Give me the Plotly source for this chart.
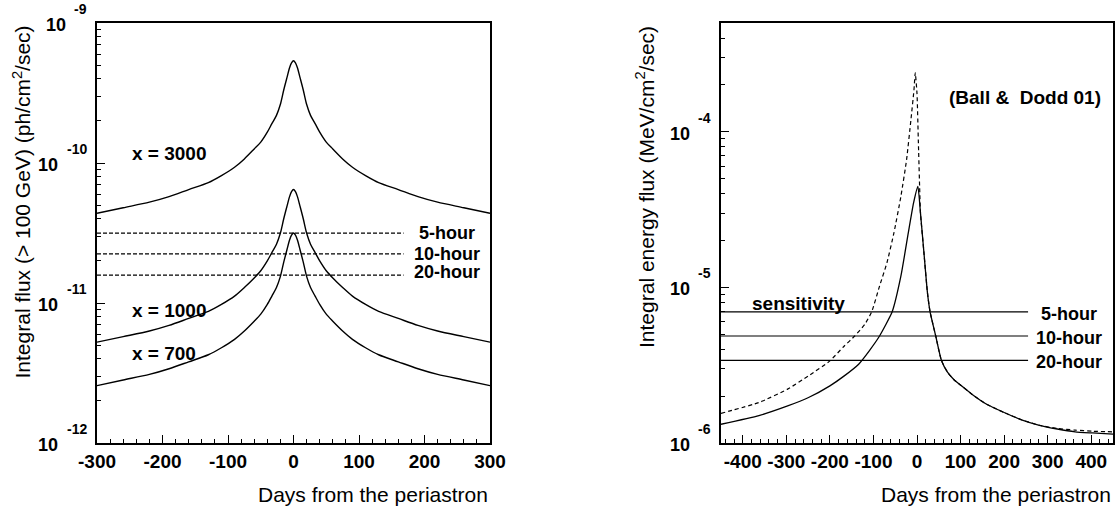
import math
import plotly.graph_objects as go

# ---------------- data: left panel ----------------
days_left = [-300, -260, -220, -190, -160, -130, -110, -90, -75, -60, -50, -40, -33, -26, -20, -15, -10, -6, -3,
             0, 3, 6, 10, 15, 20, 26, 33, 40, 50, 60, 75, 90, 110, 130, 160, 190, 220, 260, 300]
flux_x3000 = [4.37e-11, 4.79e-11, 5.25e-11, 5.75e-11, 6.46e-11, 7.24e-11, 8.13e-11, 9.33e-11, 1.07e-10, 1.26e-10,
              1.41e-10, 1.66e-10, 1.91e-10, 2.19e-10, 2.63e-10, 3.31e-10, 4.07e-10, 4.79e-10, 5.19e-10,
              5.37e-10,
              5.19e-10, 4.79e-10, 4.07e-10, 3.31e-10, 2.63e-10, 2.19e-10, 1.91e-10, 1.66e-10, 1.41e-10, 1.26e-10,
              1.07e-10, 9.33e-11, 8.13e-11, 7.24e-11, 6.46e-11, 5.75e-11, 5.25e-11, 4.79e-11, 4.37e-11]
flux_x1000 = [5.25e-12, 5.75e-12, 6.31e-12, 6.92e-12, 7.76e-12, 8.71e-12, 9.77e-12, 1.12e-11, 1.29e-11, 1.51e-11,
              1.70e-11, 2.00e-11, 2.29e-11, 2.63e-11, 3.16e-11, 3.98e-11, 4.90e-11, 5.75e-11, 6.24e-11,
              6.46e-11,
              6.24e-11, 5.75e-11, 4.90e-11, 3.98e-11, 3.16e-11, 2.63e-11, 2.29e-11, 2.00e-11, 1.70e-11, 1.51e-11,
              1.29e-11, 1.12e-11, 9.77e-12, 8.71e-12, 7.76e-12, 6.92e-12, 6.31e-12, 5.75e-12, 5.25e-12]
flux_x700 = [2.57e-12, 2.82e-12, 3.09e-12, 3.39e-12, 3.80e-12, 4.27e-12, 4.79e-12, 5.50e-12, 6.31e-12, 7.41e-12,
             8.32e-12, 9.77e-12, 1.12e-11, 1.29e-11, 1.55e-11, 1.95e-11, 2.40e-11, 2.82e-11, 3.05e-11,
             3.16e-11,
             3.05e-11, 2.82e-11, 2.40e-11, 1.95e-11, 1.55e-11, 1.29e-11, 1.12e-11, 9.77e-12, 8.32e-12, 7.41e-12,
             6.31e-12, 5.50e-12, 4.79e-12, 4.27e-12, 3.80e-12, 3.39e-12, 3.09e-12, 2.82e-12, 2.57e-12]
curve_labels_left = ["x = 3000", "x = 1000", "x = 700"]
sens_names = ["5-hour", "10-hour", "20-hour"]
sens_left = [3.16e-11, 2.24e-11, 1.58e-11]
sens_left_days = [-300, 168]

# ---------------- data: right panel ----------------
days_solid = [-450, -363, -297, -249, -200, -167, -134, -110, -86, -57, -37, -20, -8, 2, 8, 16, 24, 30, 43, 56,
              70, 85, 102, 126, 159, 200, 240, 281, 322, 363, 403, 450]
flux_solid = [1.32e-6, 1.50e-6, 1.73e-6, 1.96e-6, 2.33e-6, 2.70e-6, 3.21e-6, 3.90e-6, 4.87e-6, 6.97e-6, 1.18e-5,
              2.24e-5, 3.48e-5, 4.45e-5, 3.00e-5, 1.66e-5, 9.23e-6, 6.97e-6, 4.87e-6, 3.40e-6, 2.85e-6, 2.55e-6,
              2.33e-6, 2.06e-6, 1.78e-6, 1.57e-6, 1.41e-6, 1.30e-6, 1.23e-6, 1.18e-6, 1.16e-6, 1.14e-6]
days_dashed = [-450, -363, -297, -249, -200, -167, -143, -120, -104, -86, -69, -53, -37, -24, -14, -7, -4, 0, 3, 6,
               8, 16, 24, 30, 43, 56, 70, 85, 102, 126, 159, 200, 240, 281, 322, 363, 403, 450]
flux_dashed = [1.55e-6, 1.82e-6, 2.22e-6, 2.70e-6, 3.37e-6, 4.20e-6, 4.87e-6, 5.78e-6, 6.97e-6, 1.02e-5, 1.44e-5,
               2.24e-5, 3.84e-5, 6.59e-5, 1.19e-4, 1.85e-4, 2.39e-4, 1.76e-4, 8.86e-5, 4.45e-5, 3.00e-5, 1.66e-5,
               9.23e-6, 6.97e-6, 4.87e-6, 3.40e-6, 2.85e-6, 2.55e-6, 2.33e-6, 2.06e-6, 1.78e-6, 1.57e-6, 1.41e-6,
               1.30e-6, 1.24e-6, 1.21e-6, 1.19e-6, 1.18e-6]
sens_right = [6.97e-6, 4.87e-6, 3.40e-6]
sens_right_days = [-450, 255]

xtick_left = [-300, -200, -100, 0, 100, 200, 300]
xtick_right = [-400, -300, -200, -100, 0, 100, 200, 300, 400]
decades_left = [-12, -11, -10, -9]
decades_right = [-6, -5, -4]

FONT = "Liberation Sans, Arial, Helvetica, sans-serif"
W, H = 1118, 512

fig = go.Figure()

# left curves
for ys in (flux_x3000, flux_x1000, flux_x700):
    fig.add_trace(go.Scatter(x=days_left, y=ys, mode="lines", xaxis="x", yaxis="y",
                             line=dict(color="black", width=1.4, shape="spline", smoothing=0.8),
                             hoverinfo="skip"))
for v in sens_left:
    fig.add_trace(go.Scatter(x=sens_left_days, y=[v, v], mode="lines", xaxis="x", yaxis="y",
                             line=dict(color="black", width=1.2, dash="4px,2px"), hoverinfo="skip"))

# right curves
fig.add_trace(go.Scatter(x=days_dashed, y=flux_dashed, mode="lines", xaxis="x2", yaxis="y2",
                         line=dict(color="black", width=1.2, dash="4px,3px", shape="spline", smoothing=0.5),
                         hoverinfo="skip"))
fig.add_trace(go.Scatter(x=days_solid, y=flux_solid, mode="lines", xaxis="x2", yaxis="y2",
                         line=dict(color="black", width=1.3, shape="spline", smoothing=0.5),
                         hoverinfo="skip"))
for v in sens_right:
    fig.add_trace(go.Scatter(x=sens_right_days, y=[v, v], mode="lines", xaxis="x2", yaxis="y2",
                             line=dict(color="black", width=1.2), hoverinfo="skip"))


def minor_vals(lo, hi, top=None):
    vals = []
    for e in range(lo, hi):
        for m in range(2, 10):
            v = m * 10.0 ** e
            if top is None or v <= top:
                vals.append(v)
    return vals


axis_common = dict(showline=True, linecolor="black", linewidth=1.6, mirror=True, ticks="inside",
                   tickcolor="black", tickwidth=1, showgrid=False, zeroline=False, automargin=False)
tick_font = dict(size=19, weight="bold", family=FONT, color="black")

fig.update_layout(
    width=W, height=H, margin=dict(l=0, r=0, t=0, b=0, pad=0, autoexpand=False),
    paper_bgcolor="white", plot_bgcolor="white", showlegend=False,
    font=dict(family=FONT, color="black"),
    xaxis=dict(domain=[97 / W, 490 / W], range=[-300, 300], anchor="y", tickvals=xtick_left,
               ticktext=[str(v) for v in xtick_left], tickangle=0,
               ticklen=8, tickfont=tick_font,
               minor=dict(dtick=20, tick0=0, ticks="inside", ticklen=4, tickcolor="black"), **axis_common),
    yaxis=dict(domain=[69 / H, 489 / H], type="log", range=[-12, -9], anchor="x",
               tickvals=[10.0 ** d for d in decades_left], ticklen=8, showticklabels=False,
               minor=dict(tickvals=minor_vals(-12, -9), ticks="inside", ticklen=4, tickcolor="black"),
               **axis_common),
    xaxis2=dict(domain=[721 / W, 1113 / W], range=[-450, 450], anchor="y2", tickvals=xtick_right,
                ticktext=[str(v) for v in xtick_right], tickangle=0,
                ticklen=8, tickfont=tick_font,
                minor=dict(dtick=20, tick0=0, ticks="inside", ticklen=4, tickcolor="black"), **axis_common),
    yaxis2=dict(domain=[69 / H, 489 / H], type="log", range=[-6, -3.30103], anchor="x2",
                tickvals=[10.0 ** d for d in decades_right], ticklen=8, showticklabels=False,
                minor=dict(tickvals=minor_vals(-6, -3, 5e-4), ticks="inside", ticklen=4, tickcolor="black"),
                **axis_common),
)

ann = []
bold18 = dict(family=FONT, size=18, color="black", weight="bold")
bold19 = dict(family=FONT, size=19, color="black", weight="bold")
EXP_SIZE = 14
exp_font = dict(family=FONT, size=EXP_SIZE, color="black", weight="bold")

# y tick labels as "10" with raised exponent (ROOT style)
for xr, yr, decs in (("x domain", "y", decades_left), ("x2 domain", "y2", decades_right)):
    for d in decs:
        s = str(d)
        expw = EXP_SIZE * (0.333 + 0.556 * (len(s) - 1))
        ann.append(dict(xref=xr, yref=yr, x=0, y=d, text="10", showarrow=False, xanchor="right",
                        yanchor="middle", xshift=-(8 + expw + 9), yshift=-2, font=bold18))
        ann.append(dict(xref=xr, yref=yr, x=0, y=d, text=s, showarrow=False, xanchor="right",
                        yanchor="middle", xshift=-8, yshift=14, font=exp_font))

# curve labels, left
for txt, yl in zip(curve_labels_left, [-9.93, -11.05, -11.36]):
    ann.append(dict(xref="x", yref="y", x=-250, y=yl, text=txt, showarrow=False, xanchor="left",
                    yanchor="middle", font=bold19))
# sensitivity labels, left
for txt, v, ys in zip(sens_names, sens_left, [0, 0, 3]):
    ann.append(dict(xref="x", yref="y", x=234, y=math.log10(v), text=txt, showarrow=False, xanchor="center",
                    yanchor="middle", yshift=ys, font=bold18))
# sensitivity labels, right
for txt, v in zip(sens_names, sens_right):
    ann.append(dict(xref="x2", yref="y2", x=349, y=math.log10(v), text=txt, showarrow=False, xanchor="center",
                    yanchor="middle", yshift=-2, font=bold18))
ann.append(dict(xref="x2", yref="y2", x=-273, y=math.log10(sens_right[0]), text="sensitivity", showarrow=False,
                xanchor="center", yanchor="bottom", yshift=-4, font=bold19))
ann.append(dict(xref="x2", yref="y2", x=427, y=-3.779, text="(Ball &\u00a0 Dodd 01)", showarrow=False,
                xanchor="right", yanchor="middle", font=bold19))

# axis titles
title_font = dict(family=FONT, size=21, color="black")
ann.append(dict(xref="paper", yref="paper", x=490 / W, y=(H - 494) / H, text="Days from the periastron",
                showarrow=False, xanchor="right", yanchor="middle", font=title_font))
ann.append(dict(xref="paper", yref="paper", x=1113 / W, y=(H - 494) / H, text="Days from the periastron",
                showarrow=False, xanchor="right", yanchor="middle", font=title_font))
ann.append(dict(xref="paper", yref="paper", x=21 / W, y=(H - 24) / H, textangle=-90,
                text="Integral flux (> 100 GeV) (ph/cm<sup>2</sup>/sec)",
                showarrow=False, xanchor="center", yanchor="top", font=title_font))
ann.append(dict(xref="paper", yref="paper", x=645 / W, y=(H - 24) / H, textangle=-90,
                text="Integral energy flux (MeV/cm<sup>2</sup>/sec)",
                showarrow=False, xanchor="center", yanchor="top", font=title_font))

fig.update_layout(annotations=ann)
fig.write_html("out.html")
